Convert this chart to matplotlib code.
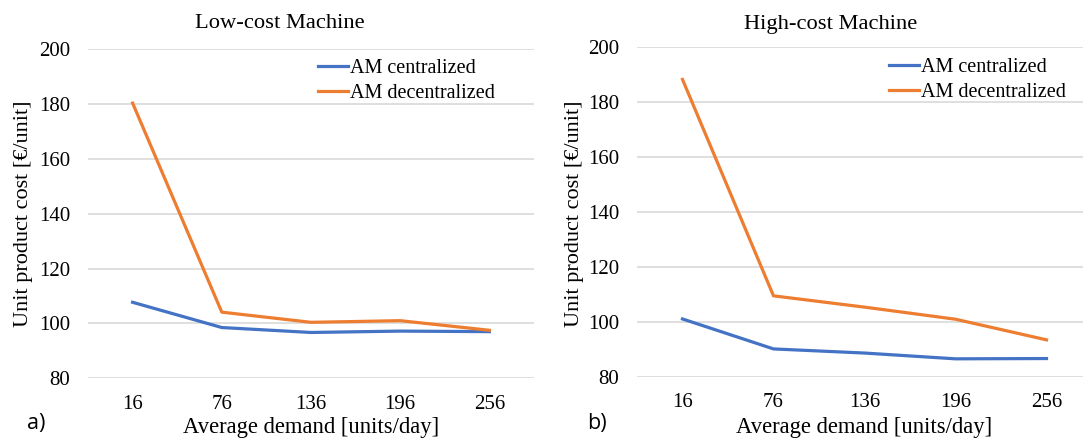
import matplotlib

matplotlib.use("Agg")

import matplotlib.pyplot as plt

demand_labels = ["16", "76", "136", "196", "256"]

low_centralized = [107.7, 98.5, 96.7, 97.2, 97.0]
low_decentralized = [180.3, 104.1, 100.4, 101.0, 97.5]

high_centralized = [101.0, 90.1, 88.6, 86.5, 86.6]
high_decentralized = [188.1, 109.4, 105.3, 100.9, 93.4]

panel_titles = ["Low-cost Machine", "High-cost Machine"]
panel_tags = ["a)", "b)"]
y_ticks = [80, 100, 120, 140, 160, 180, 200]

BLUE = "#4472C4"
ORANGE = "#ED7D31"
SERIF = "Liberation Serif"

W, H = 1083, 438


def px_box(left, top, right, bottom):
    return [left / W, 1 - bottom / H, (right - left) / W, (bottom - top) / H]


fig = plt.figure(figsize=(W / 100, H / 100), dpi=100)

layouts = [
    dict(box=px_box(88, 49, 534, 378.3), title_x=280, ylabel_x=23.5, tag_x=27,
         legend_anchor=(318, 59)),
    dict(box=px_box(637, 46.7, 1092, 376.7), title_x=831, ylabel_x=575, tag_x=587,
         legend_anchor=(889, 58)),
]

series = [
    (low_centralized, low_decentralized),
    (high_centralized, high_decentralized),
]

for i, layout in enumerate(layouts):
    ax = fig.add_axes(layout["box"])
    x = list(range(len(demand_labels)))
    cent, decent = series[i]
    ax.plot(x, cent, color=BLUE, lw=2.3, label="AM centralized", solid_joinstyle="round")
    ax.plot(x, decent, color=ORANGE, lw=2.3, label="AM decentralized", solid_joinstyle="round")

    ax.set_xlim(-0.5, len(demand_labels) - 0.5)
    ax.set_ylim(80, 200)
    ax.set_xticks(x)
    ax.set_xticklabels(demand_labels, fontfamily=SERIF, fontsize=15)
    ax.set_yticks(y_ticks)
    ax.set_yticklabels([str(v) for v in y_ticks], fontfamily=SERIF, fontsize=15)
    ax.tick_params(length=0)
    ax.tick_params(axis="x", pad=12)
    ax.tick_params(axis="y", pad=12.7)
    ax.grid(axis="y", color="#D9D9D9", lw=1.2)
    ax.set_axisbelow(True)
    for spine in ax.spines.values():
        spine.set_visible(False)

    lx, ly = layout["legend_anchor"]
    ax.legend(loc="upper left", bbox_to_anchor=(lx / W, 1 - ly / H), bbox_transform=fig.transFigure,
              frameon=False, prop={"family": SERIF, "size": 14.5}, handlelength=1.5,
              handletextpad=0.1, labelspacing=0.3, borderpad=0, borderaxespad=0)

    ax.set_xlabel("Average demand [units/day]", fontfamily=SERIF, fontsize=16.3)
    fig.text(layout["title_x"] / W, 1 - 24 / H, panel_titles[i], ha="center", va="center",
             fontfamily=SERIF, fontsize=16.2)
    fig.text(layout["ylabel_x"] / W, 1 - 214 / H, "Unit product cost [€/unit]", ha="center",
             va="center", rotation=90, fontfamily=SERIF, fontsize=16)
    fig.text(layout["tag_x"] / W, 1 - 423 / H, panel_tags[i], ha="left", va="center",
             fontfamily="Open Sans", fontsize=15.5)

# x labels centred under each axes
for ax in fig.axes:
    box = ax.get_position()
    ax.xaxis.set_label_coords((box.x0 + box.x1) / 2, 1 - 427 / H, transform=fig.transFigure)
    ax.xaxis.label.set_va("center")

fig.savefig("out.png", dpi=100)
